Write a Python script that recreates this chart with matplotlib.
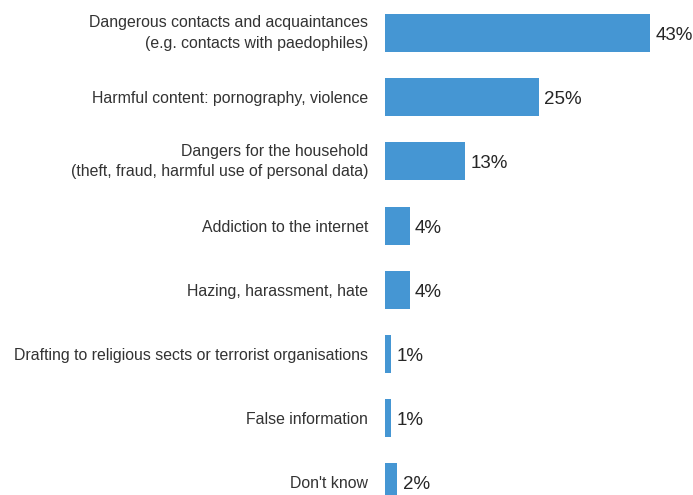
import matplotlib.pyplot as plt

plt.rcParams['font.family'] = ['Liberation Sans', 'DejaVu Sans']

categories = [
    "Dangerous contacts and acquaintances\n(e.g. contacts with paedophiles)",
    "Harmful content: pornography, violence",
    "Dangers for the household\n(theft, fraud, harmful use of personal data)",
    "Addiction to the internet",
    "Hazing, harassment, hate",
    "Drafting to religious sects or terrorist organisations",
    "False information",
    "Don't know",
]
values = [43, 25, 13, 4, 4, 1, 1, 2]

fig = plt.figure(figsize=(6.93, 4.95), dpi=100)
ax = fig.add_axes([385 / 693, 0, 265 / 693, 1])

pos = range(len(values))
ax.barh(pos, values, height=0.59, color='#4596d3')
ax.set_xlim(0, 43)
ax.set_ylim(-33 / 64.2, (495 - 33) / 64.2)
ax.invert_yaxis()

for i, v in enumerate(values):
    ax.text(v + 0.85, i + 0.04, f"{v}%", va='center', ha='left', fontsize=13.5, color='#262626')

ax.set_yticks(list(pos))
ax.set_yticklabels(categories, fontsize=11.4, color='#333333', ha='right', linespacing=1.45)
for lbl in ax.get_yticklabels():
    lbl.set_va('center' if '\n' in lbl.get_text() else 'center_baseline')
ax.tick_params(axis='y', length=0, pad=12)
ax.set_xticks([])
for s in ax.spines.values():
    s.set_visible(False)

fig.savefig('out.png', dpi=100)
